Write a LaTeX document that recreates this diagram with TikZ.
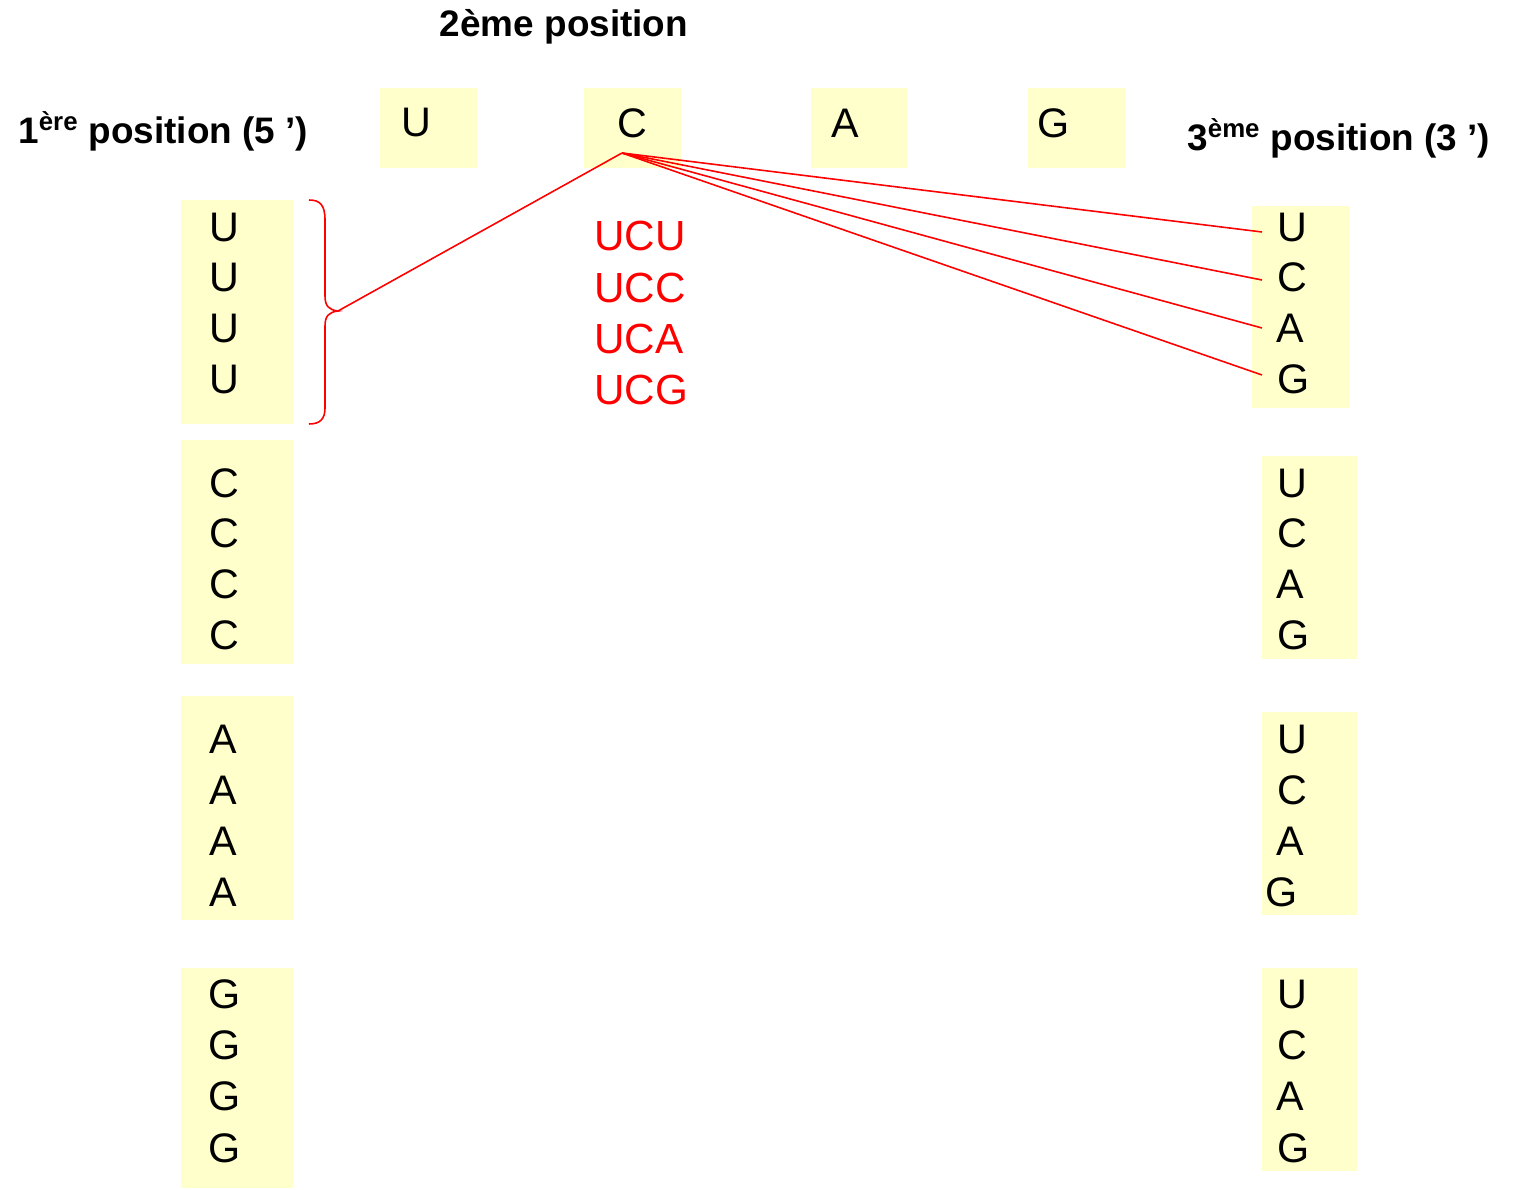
\documentclass[tikz,border=0pt]{standalone}
\usepackage{fontspec}
\setmainfont{Liberation Sans}
\definecolor{pale}{RGB}{255,255,204}
\definecolor{brred}{RGB}{255,0,0}
\begin{document}
\begin{tikzpicture}[x=0.02cm,y=-0.02cm,
  base/.style={fill=pale,draw=none,inner sep=0pt},
  nuc/.style={font=\fontsize{23.5}{28}\selectfont,inner sep=0pt},
  head/.style={font=\fontsize{21}{25}\selectfont\bfseries,inner sep=0pt},
  codon/.style={font=\fontsize{24}{28}\selectfont,text=brred,inner sep=0pt,anchor=west},
  link/.style={draw=brred,line width=0.9pt}]
\useasboundingbox (0,0) rectangle (1513,1189);

% headings
\node[head] (h2) at (564,27) {2ème position};
\node[head,anchor=west] (h1) at (18,131) {1\textsuperscript{ère} position (5 ’)};
\node[head,anchor=west] (h3) at (1187,138) {3\textsuperscript{ème} position (3 ’)};

% second position boxes
\path[base] (380,88) rectangle (477,168);
\path[base] (584,88) rectangle (681,168);
\path[base] (811,88) rectangle (907,168);
\path[base] (1028,88) rectangle (1125,168);
\node[nuc] (tU) at (416,123) {U};
\node[nuc] (tC) at (632,123) {C};
\node[nuc] (tA) at (845,123) {A};
\node[nuc] (tG) at (1054,123) {G};

% first position column
\path[base] (181,200) rectangle (293,424);
\path[base] (181,440) rectangle (293,664);
\path[base] (181,696) rectangle (293,920);
\path[base] (181,968) rectangle (293,1188);
\foreach \y [count=\i] in {227,277,328,379} \node[nuc] (lU\i) at (224,\y) {U};
\foreach \y [count=\i] in {483,533,584,635} \node[nuc] (lC\i) at (224,\y) {C};
\foreach \y [count=\i] in {739,790,841,892} \node[nuc] (lA\i) at (223,\y) {A};
\foreach \y [count=\i] in {994,1045,1096,1148} \node[nuc] (lG\i) at (225,\y) {G};

% third position column
\path[base] (1252,206) rectangle (1349,408);
\path[base] (1262,456) rectangle (1357,659);
\path[base] (1262,712) rectangle (1357,915);
\path[base] (1262,968) rectangle (1357,1171);
\node[nuc] (r1U) at (1292,227) {U};
\node[nuc] (r1C) at (1292,277) {C};
\node[nuc] (r1A) at (1290,328) {A};
\node[nuc] (r1G) at (1294,379) {G};
\node[nuc] (r2U) at (1292,483) {U};
\node[nuc] (r2C) at (1292,533) {C};
\node[nuc] (r2A) at (1290,584) {A};
\node[nuc] (r2G) at (1294,635) {G};
\node[nuc] (r3U) at (1292,739) {U};
\node[nuc] (r3C) at (1292,790) {C};
\node[nuc] (r3A) at (1290,841) {A};
\node[nuc] (r3G) at (1282,892) {G};
\node[nuc] (r4U) at (1292,994) {U};
\node[nuc] (r4C) at (1292,1045) {C};
\node[nuc] (r4A) at (1290,1096) {A};
\node[nuc] (r4G) at (1294,1148) {G};

% codons starting with U, second base C
\node[codon] (cU) at (594,236) {UCU};
\node[codon] (cC) at (594,288) {UCC};
\node[codon] (cA) at (594,339) {UCA};
\node[codon] (cG) at (594,390) {UCG};

% brace grouping the first column block
\coordinate (tip) at (338,311);
\draw[link] (309,200) .. controls (320,200) and (325,205) .. (325,220)
  -- (325,296) .. controls (325,306) and (329,310) .. (tip)
  .. controls (329,312) and (325,316) .. (325,326)
  -- (325,408) .. controls (325,419) and (320,424) .. (309,424);

% connectors from the second base
\coordinate (hub) at (622,153);
\coordinate (eU) at (1262,232);
\coordinate (eC) at (1262,280);
\coordinate (eA) at (1262,328);
\coordinate (eG) at (1262,375);
\draw[link] (hub) -- (tip);
\draw[link] (hub) -- (eU);
\draw[link] (hub) -- (eC);
\draw[link] (hub) -- (eA);
\draw[link] (hub) -- (eG);
\end{tikzpicture}
\end{document}
